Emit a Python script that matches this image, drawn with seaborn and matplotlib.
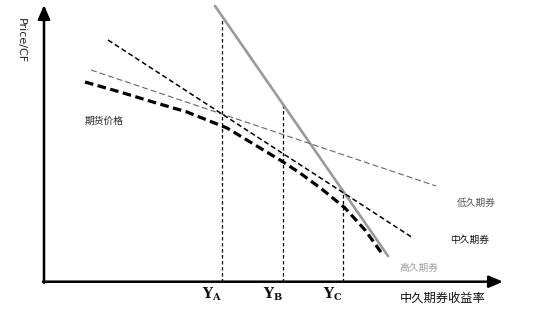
import matplotlib
matplotlib.use("Agg")
import matplotlib.pyplot as plt
import seaborn as sns
import pandas as pd

sns.set_theme(style="white")
plt.rcParams['font.family'] = ['Noto Sans CJK SC', 'DejaVu Sans']
plt.rcParams['mathtext.fontset'] = 'dejavuserif'

H = 319  # figure height in px, price = H - pixel row

# ---- data (yield on x, price/CF on y) ----
low_dur_yield = [91, 436]
low_dur_price = [249, 133]
mid_dur_yield = [108, 413]
mid_dur_price = [279, 81]
high_dur_yield = [215, 388]
high_dur_price = [313, 63]
fut_yield = [85, 120, 153, 187, 227, 280, 300, 323, 345, 365, 383]
fut_price = [237, 227, 217, 207, 191, 159, 146, 129, 111, 89, 64]

marker_yield = [221.5, 283, 343]          # Y_A, Y_B, Y_C
marker_top = [302, 215, 127]              # price where the vertical lines start
marker_labels = [r'$\mathbf{Y}_{\mathbf{A}}$', r'$\mathbf{Y}_{\mathbf{B}}$', r'$\mathbf{Y}_{\mathbf{C}}$']

axis_origin = (44, 37.3)
axis_x_end = 503
axis_y_end = 314

fig = plt.figure(figsize=(5.5, 3.19), dpi=100)
ax = fig.add_axes([0, 0, 1, 1])
ax.set_xlim(0, 550)
ax.set_ylim(0, H)
ax.axis('off')

# axes arrows
ax.annotate('', xy=(axis_x_end, axis_origin[1]), xytext=(axis_origin[0] - 1, axis_origin[1]),
            arrowprops=dict(arrowstyle='-|>,head_length=0.7,head_width=0.3', color='black', lw=1.8,
                            shrinkA=0, shrinkB=0))
ax.annotate('', xy=(axis_origin[0], axis_y_end), xytext=(axis_origin[0], axis_origin[1] - 1),
            arrowprops=dict(arrowstyle='-|>,head_length=0.7,head_width=0.3', color='black', lw=1.8,
                            shrinkA=0, shrinkB=0))

# vertical dashed markers
for xv, top in zip(marker_yield, marker_top):
    df = pd.DataFrame({'x': [xv, xv], 'y': [axis_origin[1], top]})
    sns.lineplot(data=df, x='x', y='y', ax=ax, color='black', lw=0.9, sort=False,
                 estimator=None, linestyle=(0, (2.8, 2.0)))

# bond lines
sns.lineplot(x=high_dur_yield, y=high_dur_price, ax=ax, color='#9a9a9a', lw=1.9)
sns.lineplot(x=low_dur_yield, y=low_dur_price, ax=ax, color='#666666', lw=0.8,
             linestyle=(0, (5.4, 2.7)))
sns.lineplot(x=mid_dur_yield, y=mid_dur_price, ax=ax, color='black', lw=1.1,
             linestyle=(0, (3.3, 2.0)))
sns.lineplot(x=fut_yield, y=fut_price, ax=ax, color='black', lw=2.3,
             linestyle=(0, (2.7, 1.4)))

# texts
ax.text(21, H - 41, 'Price/CF', rotation=270, ha='center', va='center', fontsize=8,
        color='#222222', family=['DejaVu Sans'])
ax.text(85, H - 121, '期货价格', ha='left', va='center', fontsize=7, color='#222222')
ax.text(457, H - 203, '低久期券', ha='left', va='center', fontsize=7, color='#555555')
ax.text(450, H - 240, '中久期券', ha='left', va='center', fontsize=7, color='#111111')
ax.text(399, H - 268, '高久期券', ha='left', va='center', fontsize=7, color='#a0a0a0')
ax.text(400, H - 298, '中久期券收益率', ha='left', va='center', fontsize=8.8, color='#111111')

for xv, lab in zip(marker_yield, marker_labels):
    ax.text(xv - 20, H - 286, lab, ha='left', va='top', fontsize=10, color='#111111')

fig.savefig('out.png', dpi=100)
